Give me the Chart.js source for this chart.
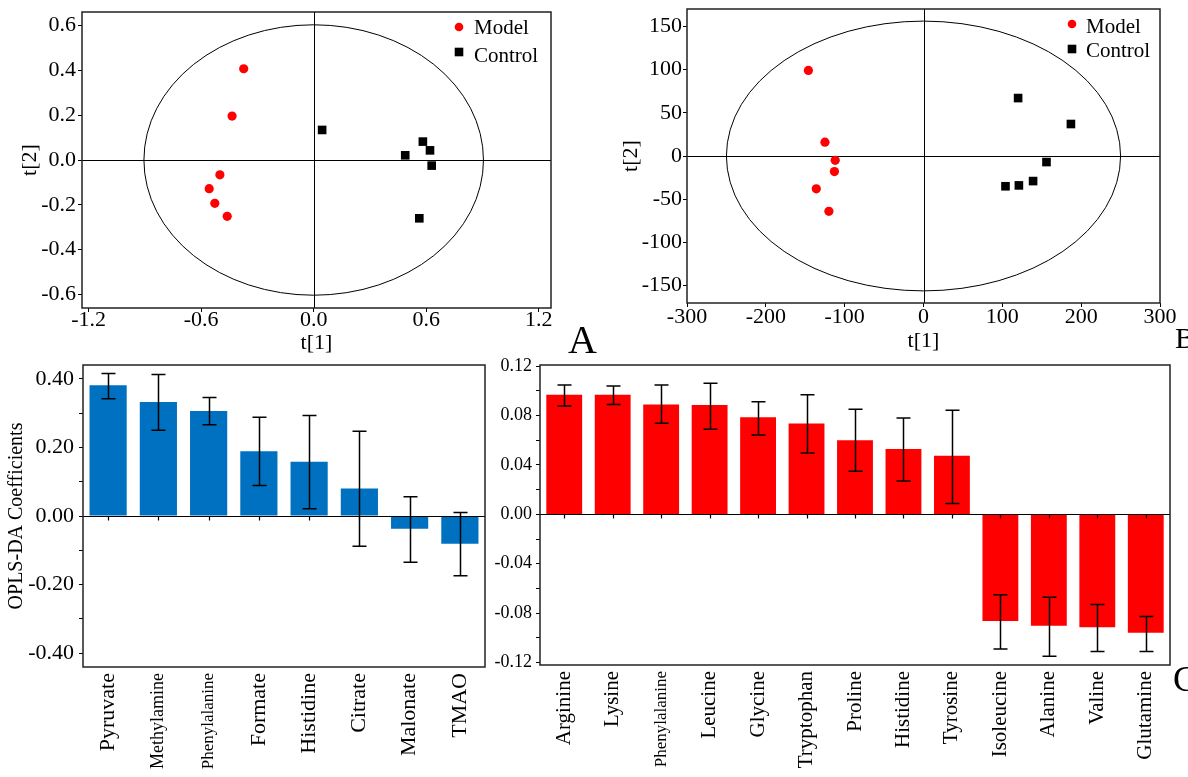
<!DOCTYPE html>
<html>
<head>
<meta charset="utf-8">
<script src="https://cdn.jsdelivr.net/npm/chart.js@4.4.1/dist/chart.umd.min.js"></script>
<style>
  body { margin: 0; background: #fff; width: 1188px; height: 777px; position: relative; overflow: hidden; }
  .panel { position: absolute; }
  .tag { position: absolute; font-family: "Liberation Serif", serif; line-height: 1; color: #000; }
</style>
</head>
<body>
<div class="panel" style="left:0;top:-20px;width:600px;height:385px"><canvas id="scoreA"></canvas></div>
<div class="panel" style="left:600px;top:-20px;width:588px;height:385px"><canvas id="scoreB"></canvas></div>
<div class="panel" style="left:0;top:340px;width:505px;height:437px"><canvas id="coefLeft"></canvas></div>
<div class="panel" style="left:478px;top:340px;width:710px;height:437px"><canvas id="coefRight"></canvas></div>
<div class="tag" style="left:568px;top:320px;font-size:40px">A</div>
<div class="tag" style="left:1175px;top:323px;font-size:30px">B</div>
<div class="tag" style="left:1173px;top:661px;font-size:36px">C</div>

<script>
// ---- score plot A ----
const modelA_x = [-0.373, -0.435, -0.500, -0.557, -0.527, -0.461];
const modelA_y = [0.407, 0.196, -0.066, -0.128, -0.193, -0.251];
const controlA_x = [0.045, 0.582, 0.620, 0.488, 0.629, 0.563];
const controlA_y = [0.134, 0.082, 0.043, 0.021, -0.025, -0.260];
const ellipseA = { rx: 0.905, ry: 0.603 };

// ---- score plot B ----
const modelB_x = [-146, -125, -112, -113, -136, -120];
const modelB_y = [99, 16, -5, -18, -38, -64];
const controlB_x = [120, 187, 156, 139, 121, 104];
const controlB_y = [67, 37, -7, -29, -34, -35];
const ellipseB = { rx: 250, ry: 156 };

// ---- coefficient bars (left) ----
const metabolites = ['Pyruvate', 'Methylamine', 'Phenylalanine', 'Formate', 'Histidine', 'Citrate', 'Malonate', 'TMAO'];
const metaCoef = [0.381, 0.332, 0.306, 0.189, 0.158, 0.080, -0.037, -0.081];
const metaHigh = [0.415, 0.412, 0.345, 0.288, 0.293, 0.247, 0.056, 0.010];
const metaLow = [0.342, 0.250, 0.266, 0.089, 0.021, -0.088, -0.135, -0.174];

// ---- coefficient bars (right) ----
const aminoAcids = ['Arginine', 'Lysine', 'Phenylalanine', 'Leucine', 'Glycine', 'Tryptophan', 'Proline',
  'Histidine', 'Tyrosine', 'Isoleucine', 'Alanine', 'Valine', 'Glutamine'];
const aminoCoef = [0.0969, 0.0969, 0.0891, 0.0886, 0.0787, 0.0736, 0.0601, 0.0529, 0.0475, -0.0864, -0.0902, -0.0915, -0.0958];
const aminoHigh = [0.1047, 0.1039, 0.1047, 0.1063, 0.0913, 0.0969, 0.0851, 0.0781, 0.0843, -0.0650, -0.0671, -0.0730, -0.0827];
const aminoLow = [0.0878, 0.0891, 0.0738, 0.0690, 0.0642, 0.0497, 0.0349, 0.0271, 0.0089, -0.1090, -0.1149, -0.1110, -0.1110];

Chart.defaults.font.family = '"Liberation Serif", "Times New Roman", serif';
Chart.defaults.color = '#000';
Chart.defaults.animation = false;

function fix(v, d) {
  if (Math.abs(v) < 1e-9) v = 0;
  return v.toFixed(d);
}

// frame, zero lines, ellipse, error bars and legend
const panelDecor = {
  id: 'panelDecor',
  beforeDatasetsDraw(chart, args, opts) {
    if (!opts.scatter) return;
    const { ctx, chartArea: a } = chart;
    const xs = chart.scales.x, ys = chart.scales.y;
    ctx.save();
    ctx.strokeStyle = '#000';
    ctx.lineWidth = 1;
    const x0 = Math.round(xs.getPixelForValue(0)) + 0.5;
    const y0 = Math.round(ys.getPixelForValue(0)) + 0.5;
    ctx.beginPath();
    ctx.moveTo(a.left, y0); ctx.lineTo(a.right, y0);
    ctx.moveTo(x0, a.top); ctx.lineTo(x0, a.bottom);
    ctx.stroke();
    const cx = xs.getPixelForValue(0), cy = ys.getPixelForValue(0);
    const rx = xs.getPixelForValue(opts.rx) - cx;
    const ry = cy - ys.getPixelForValue(opts.ry);
    ctx.beginPath();
    ctx.ellipse(cx, cy, rx, ry, 0, 0, Math.PI * 2);
    ctx.stroke();
    ctx.restore();
  },
  afterDatasetsDraw(chart, args, opts) {
    const { ctx, chartArea: a } = chart;
    const xs = chart.scales.x, ys = chart.scales.y;
    ctx.save();
    if (!opts.scatter) {
      const ds = chart.data.datasets[0];
      const meta = chart.getDatasetMeta(0);
      const y0 = Math.round(ys.getPixelForValue(0)) + 0.5;
      ctx.strokeStyle = '#000';
      ctx.lineWidth = 1.2;
      ctx.beginPath();
      ctx.moveTo(a.left, y0); ctx.lineTo(a.right, y0);
      xs.ticks.forEach((t, i) => {
        const px = Math.round(xs.getPixelForTick(i)) + 0.5;
        ctx.moveTo(px, y0); ctx.lineTo(px, y0 + 4);
      });
      ctx.stroke();
      // error bars
      ctx.lineWidth = 1.5;
      meta.data.forEach((bar, i) => {
        const hi = ys.getPixelForValue(ds.errHigh[i]);
        const lo = ys.getPixelForValue(ds.errLow[i]);
        const bx = Math.round(bar.x) + 0.5;
        ctx.beginPath();
        ctx.moveTo(bx, hi); ctx.lineTo(bx, lo);
        ctx.moveTo(bx - 7, hi); ctx.lineTo(bx + 7, hi);
        ctx.moveTo(bx - 7, lo); ctx.lineTo(bx + 7, lo);
        ctx.stroke();
      });
    } else {
      // legend inside the plot, top right
      ctx.font = '21px "Liberation Serif", serif';
      ctx.textBaseline = 'middle';
      ctx.textAlign = 'left';
      chart.data.datasets.forEach(ds => {
        const mx = a.right + opts.markerX, my = a.top + ds.legendY;
        ctx.fillStyle = ds.backgroundColor;
        if (ds.pointStyle === 'rect') {
          ctx.fillRect(mx - 4.3, my - 4.3, 8.6, 8.6);
        } else {
          ctx.beginPath(); ctx.arc(mx, my, 4.3, 0, Math.PI * 2); ctx.fill();
        }
        ctx.fillStyle = '#000';
        ctx.fillText(ds.label, a.right + opts.textX, a.top + ds.legendTextY);
      });
    }
    ctx.strokeStyle = '#222';
    ctx.lineWidth = 1.5;
    ctx.strokeRect(a.left, a.top, a.right - a.left, a.bottom - a.top);
    ctx.restore();
  }
};

function toPoints(xs, ys) {
  return xs.map((x, i) => ({ x: x, y: ys[i] }));
}

function scoreChart(id, cfg) {
  return new Chart(document.getElementById(id), {
    type: 'scatter',
    data: {
      datasets: [
        { label: 'Model', data: cfg.model, pointStyle: 'circle', pointRadius: 4.6, pointHoverRadius: 4.6,
          backgroundColor: '#ff0000', borderWidth: 0, legendY: cfg.legY[0], legendTextY: cfg.legTextY[0] },
        { label: 'Control', data: cfg.control, pointStyle: 'rect', pointRadius: 6.1, pointHoverRadius: 6.1,
          backgroundColor: '#000000', borderWidth: 0, legendY: cfg.legY[1], legendTextY: cfg.legTextY[1] }
      ]
    },
    options: {
      responsive: true,
      maintainAspectRatio: false,
      layout: { padding: cfg.padding },
      plugins: {
        legend: { display: false },
        tooltip: { enabled: false },
        panelDecor: { scatter: true, rx: cfg.ellipse.rx, ry: cfg.ellipse.ry, markerX: cfg.markerX, textX: cfg.textX }
      },
      scales: {
        x: {
          type: 'linear', min: cfg.xMin, max: cfg.xMax,
          border: { display: false },
          grid: { drawOnChartArea: false, tickLength: 4, color: '#000' },
          ticks: { stepSize: cfg.xStep, includeBounds: false, maxRotation: 0, padding: cfg.xPad,
            font: { size: 22, lineHeight: 1 }, callback: v => fix(v, cfg.digits) },
          title: { display: true, text: 't[1]', font: { size: 22 }, padding: { top: 0, bottom: cfg.xTitlePad } },
          afterFit: s => { s.height = cfg.xHeight; }
        },
        y: {
          min: cfg.yMin, max: cfg.yMax,
          border: { display: false },
          grid: { drawOnChartArea: false, tickLength: 4, color: '#000' },
          ticks: { stepSize: cfg.yStep, includeBounds: false, padding: cfg.yPad,
            font: { size: 22 }, callback: v => fix(v, cfg.digits) },
          title: { display: true, text: 't[2]', font: { size: 22 }, padding: { top: cfg.yTitlePad, bottom: 0 } },
          afterFit: s => { s.width = cfg.yWidth; }
        }
      }
    },
    plugins: [panelDecor]
  });
}

scoreChart('scoreA', {
  model: toPoints(modelA_x, modelA_y), control: toPoints(controlA_x, controlA_y), ellipse: ellipseA,
  xMin: -1.235, xMax: 1.265, xStep: 0.6, yMin: -0.66, yMax: 0.66, yStep: 0.2, digits: 1,
  padding: { left: 0, right: 49, top: 32, bottom: 0 }, xHeight: 57, yWidth: 82,
  xPad: -3, yPad: 2, xTitlePad: 9, yTitlePad: 17,
  markerX: -92, textX: -77, legY: [15, 40], legTextY: [16, 44]
});

scoreChart('scoreB', {
  model: toPoints(modelB_x, modelB_y), control: toPoints(controlB_x, controlB_y), ellipse: ellipseB,
  xMin: -300, xMax: 300, xStep: 100, yMin: -170, yMax: 170, yStep: 50, digits: 0,
  padding: { left: 0, right: 28, top: 29, bottom: 0 }, xHeight: 62, yWidth: 87,
  xPad: -1, yPad: 1, xTitlePad: 11, yTitlePad: 18,
  markerX: -88, textX: -74, legY: [15, 40], legTextY: [18, 42]
});

function coefChart(id, cfg) {
  return new Chart(document.getElementById(id), {
    type: 'bar',
    data: {
      labels: cfg.labels,
      datasets: [{
        data: cfg.values, errHigh: cfg.high, errLow: cfg.low,
        backgroundColor: cfg.color, borderWidth: 0,
        barPercentage: 0.74, categoryPercentage: 1
      }]
    },
    options: {
      responsive: true,
      maintainAspectRatio: false,
      layout: { padding: cfg.padding },
      plugins: {
        legend: { display: false },
        tooltip: { enabled: false },
        panelDecor: { scatter: false }
      },
      scales: {
        x: {
          border: { display: false },
          grid: { display: false },
          ticks: { autoSkip: false, minRotation: 90, maxRotation: 90, padding: -2,
            font: c => ({ size: cfg.labelSize[c.index] }) },
          afterFit: s => { s.height = cfg.xHeight; }
        },
        y: {
          min: cfg.yMin, max: cfg.yMax,
          border: { display: false },
          grid: { drawOnChartArea: false, tickLength: 4, color: '#000' },
          ticks: { stepSize: cfg.yStep, includeBounds: false, padding: cfg.yPad,
            font: { size: cfg.yFont },
            callback: v => (Math.round(v / cfg.yStep) % 2 === 0 ? fix(v, 2) : '') },
          title: { display: !!cfg.yTitle, text: cfg.yTitle, font: { size: 20 }, padding: { top: 5, bottom: 0 } },
          afterFit: s => { s.width = cfg.yWidth; }
        }
      }
    },
    plugins: [panelDecor]
  });
}

coefChart('coefLeft', {
  labels: metabolites, values: metaCoef, high: metaHigh, low: metaLow, color: '#0070c0',
  labelSize: [22, 18, 17, 22, 22, 22, 22, 22],
  yMin: -0.44, yMax: 0.44, yStep: 0.1, yFont: 22, yPad: 5, yTitle: 'OPLS-DA Coefficients',
  padding: { left: 0, right: 20, top: 25, bottom: 0 }, xHeight: 110, yWidth: 83
});

coefChart('coefRight', {
  labels: aminoAcids, values: aminoCoef, high: aminoHigh, low: aminoLow, color: '#ff0000',
  labelSize: [21, 21, 17, 21, 21, 21, 21, 21, 21, 21, 21, 21, 21],
  yMin: -0.122, yMax: 0.121, yStep: 0.02, yFont: 18, yPad: 4, yTitle: '',
  padding: { left: 0, right: 18, top: 25, bottom: 0 }, xHeight: 112, yWidth: 62
});
</script>
</body>
</html>
